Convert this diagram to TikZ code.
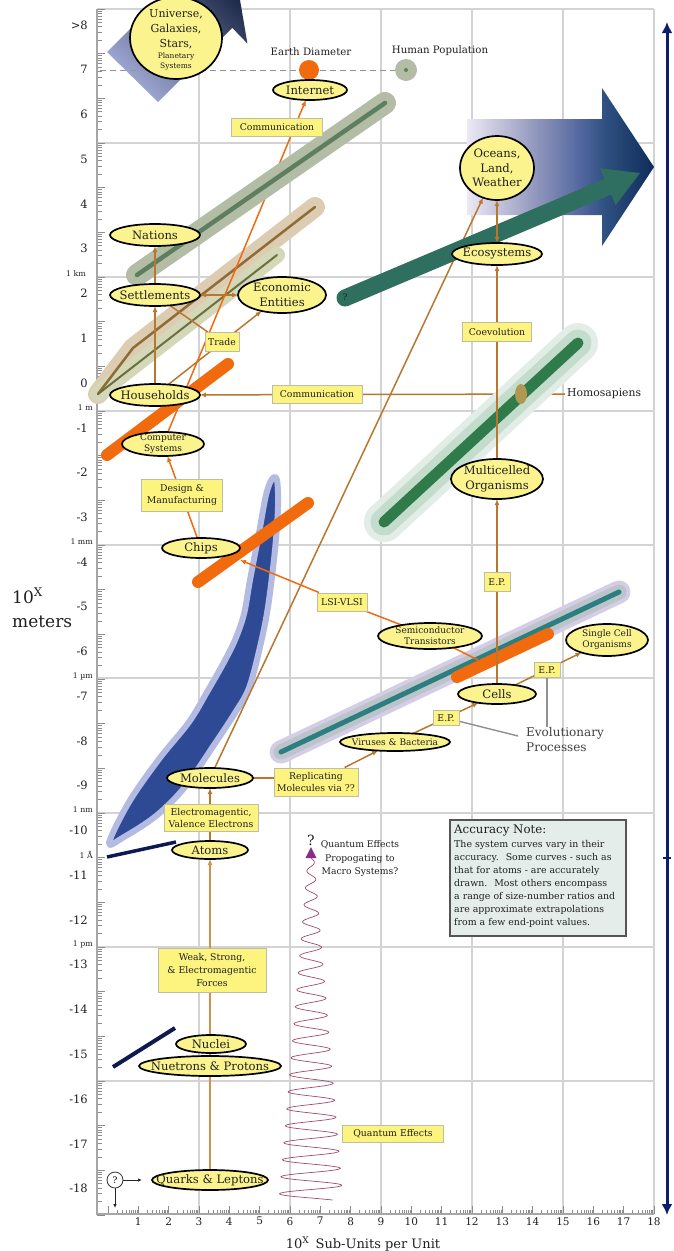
\documentclass[tikz,border=0pt]{standalone}
\usepackage{fontspec}
\setmainfont{DejaVu Serif}
\usetikzlibrary{arrows.meta,shapes.geometric}
\pgfdeclarelayer{back}
\pgfdeclarelayer{mid}
\pgfdeclarelayer{conn}
\pgfsetlayers{back,mid,conn,main}
\definecolor{nodey}{HTML}{FBF38D}
\definecolor{boxy}{HTML}{FDF37F}
\definecolor{boxb}{HTML}{BDBDA8}
\definecolor{brownc}{HTML}{B9772E}
\definecolor{orangec}{HTML}{F26A0E}
\definecolor{quarkc}{HTML}{D4914A}
\definecolor{gridc}{HTML}{D3D3D3}
\definecolor{axisc}{HTML}{A6A6A6}
\definecolor{tickc}{HTML}{8C8C8C}
\definecolor{navyc}{HTML}{0E1C6E}
\definecolor{navyl}{HTML}{0C1A50}
\definecolor{tanh}{HTML}{DCCDB2}
\definecolor{tanc}{HTML}{8E6C36}
\definecolor{olh}{HTML}{D4D8B8}
\definecolor{olc}{HTML}{6C703E}
\definecolor{nath}{HTML}{B3BDA5}
\definecolor{natc}{HTML}{5E7E60}
\definecolor{mulo}{HTML}{E3EDE7}
\definecolor{mulm}{HTML}{C3DCCB}
\definecolor{mulc}{HTML}{2F7B49}
\definecolor{cellv}{HTML}{D5CDE6}
\definecolor{cellg}{HTML}{BAC4C9}
\definecolor{cellc}{HTML}{2C7E80}
\definecolor{ecoc}{HTML}{2F6F5F}
\definecolor{leafh}{HTML}{B3BBE3}
\definecolor{leafc}{HTML}{2F4A95}
\definecolor{univL}{HTML}{A0AAD6}
\definecolor{univM}{HTML}{5262A0}
\definecolor{univR}{HTML}{1A2644}
\definecolor{ocA}{HTML}{ECE8F4}
\definecolor{ocB}{HTML}{BCBCD6}
\definecolor{ocC}{HTML}{8890B8}
\definecolor{ocM}{HTML}{5468A0}
\definecolor{ocD}{HTML}{2E5080}
\definecolor{ocE}{HTML}{0E2C5A}
\definecolor{humc}{HTML}{B5BCA5}
\definecolor{olivem}{HTML}{B09850}
\definecolor{wavec}{HTML}{A04A70}
\definecolor{purplec}{HTML}{8A2A8A}
\definecolor{notefill}{HTML}{E5EDEB}
\definecolor{notebord}{HTML}{555555}
\definecolor{greyc}{HTML}{909090}
\definecolor{txtc}{HTML}{202020}
\pgfdeclarehorizontalshading{oceansh}{100bp}{color(0bp)=(ocA); color(25bp)=(ocA); color(35bp)=(ocB); color(45bp)=(ocC); color(55bp)=(ocM); color(62bp)=(ocD); color(75bp)=(ocE); color(100bp)=(ocE)}
\newcommand\ELL[7]{%
  \node[ell, minimum width={2*#4}, minimum height={2*#5}] (#1) at (#2,#3) {};
  \node[#6] (#1-t) at (#2,#3) {#7};}
\begin{document}
\begin{tikzpicture}[x=1pt,y=-1pt,
  ell/.style={ellipse, draw=black, line width=1.7pt, fill=nodey, inner sep=0pt, outer sep=0pt},
  etxt/.style={inner sep=0pt, align=center, text=txtc, font=\fontsize{11.6}{14.5}\selectfont},
  stxt/.style={inner sep=0pt, align=center, text=txtc, font=\fontsize{9}{11}\selectfont},
  lbl/.style={rectangle, draw=boxb, line width=1pt, fill=boxy, inner sep=1.5pt, align=center, text=txtc, font=\fontsize{9.3}{12.8}\selectfont},
  conn/.style={draw=brownc, line width=1.5pt},
  oconn/.style={draw=orangec, line width=1.5pt},
  quarkline/.style={draw=quarkc, line width=2.3pt},
  greyline/.style={draw=greyc, line width=1.4pt},
  arrowend/.style={-{Latex[length=6pt,width=5pt]}},
  bothends/.style={{Latex[length=6pt,width=5pt]}-{Latex[length=6pt,width=5pt]}},
  band/.style={line cap=round, line join=round},
  gridline/.style={draw=gridc, line width=1.3pt},
  axisline/.style={draw=axisc, line width=2.2pt},
  tickline/.style={draw=tickc, line width=0.7pt},
  axf/.style={inner sep=0pt, text=txtc, font=\fontsize{11.5}{13}\selectfont},
  unitf/.style={inner sep=0pt, anchor=east, text=txtc, font=\fontsize{7.8}{9}\selectfont},
]
\useasboundingbox (0,0) rectangle (673,1251);

% ---------------- nodes (main layer) ----------------
\node[ell, minimum width=92, minimum height=82] (universe) at (176,38) {};
\node[etxt, font=\fontsize{11}{15}\selectfont] (universe-t) at (176,40)
  {Universe,\\Galaxies,\\Stars,\\[-4pt]{\fontsize{7.5}{9}\selectfont Planetary}\\[-5pt]{\fontsize{7.5}{9}\selectfont Systems}};
\ELL{internet}{310}{90}{37}{10}{etxt}{Internet}
\ELL{oceans}{497}{168}{37}{32}{etxt}{Oceans,\\Land,\\Weather}
\ELL{ecosys}{497}{254}{45}{11}{etxt}{Ecosystems}
\ELL{nations}{155}{235}{45}{11}{etxt}{Nations}
\ELL{settle}{155}{295}{45}{11}{etxt}{Settlements}
\ELL{econ}{282}{295}{44}{18}{etxt}{Economic\\Entities}
\ELL{house}{155}{395}{45}{11}{etxt}{Households}
\ELL{compsys}{163}{444}{41}{12}{stxt}{Computer\\Systems}
\ELL{chips}{201}{548}{39}{10}{etxt}{Chips}
\ELL{multi}{497}{479}{46}{20}{etxt}{Multicelled\\Organisms}
\ELL{semic}{430}{636}{52}{13}{stxt}{Semiconductor\\Transistors}
\ELL{single}{607}{640}{41}{16}{stxt}{Single Cell\\Organisms}
\ELL{cells}{497}{694}{39}{10}{etxt}{Cells}
\ELL{viruses}{395}{742}{55}{9}{stxt}{Viruses \& Bacteria}
\ELL{molec}{210}{778}{43}{10}{etxt}{Molecules}
\ELL{atoms}{210}{850}{38}{9}{etxt}{Atoms}
\ELL{nuclei}{211}{1044}{35}{9}{etxt}{Nuclei}
\ELL{neut}{210}{1066}{71}{10}{etxt}{Nuetrons \& Protons}
\ELL{quarks}{210}{1180}{58}{10}{etxt}{Quarks \& Leptons}

\node[lbl, minimum width=91, minimum height=18] (comm1) at (277,127) {Communication};
\node[lbl, minimum width=34, minimum height=19] (trade) at (222,342) {Trade};
\node[lbl, minimum width=90, minimum height=18] (comm2) at (317,394) {Communication};
\node[lbl, minimum width=69, minimum height=19] (coevo) at (497,332) {Coevolution};
\node[lbl, minimum width=81, minimum height=32] (design) at (182,495) {Design \&\\Manufacturing};
\node[lbl, minimum width=50, minimum height=18] (lsi) at (342,602) {LSI-VLSI};
\node[lbl, minimum width=26, minimum height=19] (ep3) at (497,582) {E.P.};
\node[lbl, minimum width=26, minimum height=15] (ep2) at (547,670) {E.P.};
\node[lbl, minimum width=26, minimum height=15] (ep1) at (446,718) {E.P.};
\node[lbl, minimum width=84, minimum height=28] (repl) at (316,782) {Replicating\\Molecules via ??};
\node[lbl, minimum width=94, minimum height=27] (emv) at (211,818) {Electromagentic,\\Valence Electrons};
\node[lbl, minimum width=108, minimum height=44] (weak) at (212,970) {Weak, Strong,\\\& Electromagentic\\Forces};
\node[lbl, minimum width=101, minimum height=17] (qeff) at (393,1134) {Quantum Effects};

\node[inner sep=0pt, text=txtc, font=\fontsize{10.2}{12}\selectfont] (earthtxt) at (311,52) {Earth Diameter};
\node[inner sep=0pt, text=txtc, font=\fontsize{10.2}{12}\selectfont] (humantxt) at (440,51) {Human Population};
\node[anchor=west, inner sep=0pt, text=txtc, font=\fontsize{10.8}{12}\selectfont] (homotxt) at (567,394) {Homosapiens};
\node[inner sep=0pt, text=txtc, font=\fontsize{9}{10}\selectfont] (ecoq) at (345,297) {?};
\node[anchor=north west, inner sep=0pt, align=left, text=black!75, font=\fontsize{12}{15}\selectfont] (evo) at (526,727) {Evolutionary\\Processes};
\node[inner sep=0pt, text=txtc, font=\fontsize{14}{16}\selectfont] (qq) at (311,840) {?};
\node[inner sep=0pt, align=center, text=txtc, font=\fontsize{9.2}{13.5}\selectfont] (qtext) at (360,859) {Quantum Effects\\Propogating to\\Macro Systems?};

\node[draw=notebord, line width=1.5pt, fill=notefill, anchor=north west, minimum width=176, minimum height=116, inner sep=0pt] (notebox) at (449,819) {};
\node[anchor=north west, inner sep=0pt, text=txtc, font=\fontsize{11.8}{13}\selectfont] (notetitle) at (454,825) {Accuracy Note:};
\node[anchor=north west, inner sep=0pt, align=left, text=txtc, font=\fontsize{9.4}{13}\selectfont] (notebody) at (454,840)
  {The system curves vary in their\\accuracy.~ Some curves - such as\\that for atoms - are accurately\\drawn.~ Most others encompass\\a range of size-number ratios and\\are approximate extrapolations\\from a few end-point values.};

\node[circle, draw=black!80, line width=0.8pt, fill=white, minimum size=16, inner sep=0pt, font=\fontsize{9}{10}\selectfont] (qmark) at (115,1180) {?};
\coordinate (qright) at (142,1180);
\coordinate (qdown) at (115,1208);

\node[anchor=base west, inner sep=0pt, text=txtc, font=\fontsize{17}{20}\selectfont] (ylab1) at (12,603) {10\textsuperscript{X}};
\node[anchor=base west, inner sep=0pt, text=txtc, font=\fontsize{17}{20}\selectfont] (ylab2) at (12,627) {meters};
\node[anchor=base, inner sep=0pt, text=txtc, font=\fontsize{13}{15}\selectfont] (xlab) at (363,1248) {10\textsuperscript{X}\, Sub-Units per Unit};

% axis labels
\foreach \v in {-18,...,7} {\node[axf, anchor=east] (yl\v) at (88,{383-44.75*\v}) {\v};}
\node[axf, anchor=east] (yl8) at (88,25) {>8};
\foreach \k in {1,...,18} {\node[axf, anchor=north, font=\fontsize{10.5}{12}\selectfont] (xl\k) at ({108+30.333*\k},1217) {\k};}
\node[unitf] (ukm) at (86,274) {1 km};
\node[unitf] (um) at (93,408) {1 m};
\node[unitf] (umm) at (93,542) {1 mm};
\node[unitf] (uum) at (93,676) {1 µm};
\node[unitf] (unm) at (93,810) {1 nm};
\node[unitf] (ua) at (93,855) {1 Å};
\node[unitf] (upm) at (93,944) {1 pm};

\coordinate (homo) at (565,394);
\coordinate (obandpt) at (478,660);
\coordinate (chipspt) at (240,560);
\coordinate (evoend) at (518,736);
\coordinate (rtop) at (667,22);
\coordinate (rbot) at (667,1215);

% right axis
\draw[navyc, line width=3pt, {Latex[length=11pt,width=11pt]}-{Latex[length=11pt,width=11pt]}] (rtop) -- (rbot);
\draw[navyc, line width=1.2pt] (663,858) -- (671,858);

% ---------------- back layer ----------------
\begin{pgfonlayer}{back}
\fill[white] (0,0) rectangle (673,1251);
\foreach \gx in {199,290,381,472,563,654} {\draw[gridline] (\gx,9) -- (\gx,1214);}
\foreach \gy in {143,277,411,545,678,813,947,1081} {\draw[gridline] (97,\gy) -- (654,\gy);}
\draw[gridline] (97,9) -- (654,9);
\foreach \ee in {-18,...,9} {\pgfmathsetmacro\yy{411-44.667*\ee}\draw[tickline] (97,\yy) -- (105,\yy);}
\foreach \ee in {-17,...,9} {\foreach \mm in {2,...,9} {\pgfmathsetmacro\yy{411-44.667*\ee+44.667*(1-log10(\mm))}\draw[tickline] (97,\yy) -- (102,\yy);}}
\foreach \kk in {0,...,18} {\pgfmathsetmacro\xx{108+30.333*\kk}\draw[tickline] (\xx,1214) -- (\xx,1206);}
\foreach \kk in {0,...,17} {\foreach \mm in {2,...,9} {\pgfmathsetmacro\xx{108+30.333*\kk+30.333*log10(\mm)}\draw[tickline] (\xx,1214) -- (\xx,1210);}}
\draw[axisline] (97,9) -- (97,1214) -- (654,1214);

% universe arrow
\begin{scope}
\clip (0,0) rectangle (673,1251);
\shade[bottom color=univL, middle color=univM, top color=univR, shading angle=-45]
  (107,52) -- (158,102) -- (232.2,27.8) -- (247.4,43.5) -- (235.6,-26.1) -- (166,-38) -- (181.2,-22.2) -- cycle;
\end{scope}
% oceans arrow
\shade[shading=oceansh] (467,119) -- (602,119) -- (602,88) -- (654,167) -- (602,246) -- (602,215) -- (467,215) -- cycle;

% dashed line
\draw[gridc!70!black, dashed, dash pattern=on 6pt off 4pt, line width=1pt] (100,70) -- (395,70);

% tan & olive bands
\draw[band, tanh, line width=20pt] (98,394) -- (133,348) -- (315,207);
\draw[band, olh, line width=16pt] (98,394) -- (277,255);
\draw[band, tanc, line width=2.5pt] (98,394) -- (133,348) -- (315,207);
\draw[band, olc, line width=2pt] (98,394) -- (277,255);

% leaf
\draw[leafh, line width=6pt, fill=leafc, line join=round] plot[smooth cycle, tension=0.55] coordinates
  {(109,843) (129,802) (159,759) (189,722) (207,692) (223,664) (235,640) (244,614) (250,580) (259,533) (266,495) (272,479) (277,480) (278,507) (275,550) (268,607) (260,647) (249,688) (235,713) (214,745) (185,787) (156,816) (124,837)};

% navy lines
\draw[navyl, line width=3.5pt] (107,857) -- (176,842);
\draw[navyl, line width=4pt] (113,1067) -- (175,1028);

% quantum wave
\draw[wavec, line width=0.7pt] plot[domain=858:1200, samples=500, smooth, variable=\t] ({311+(3+(\t-858)*0.085)*sin((\t-858)*21.1765)}, \t);
\fill[purplec] (311,847) -- (305.5,858) -- (316.5,858) -- cycle;

% connectors under bands
\draw[conn, arrowend] (molec) -- (oceans);
\draw[oconn, arrowend] (compsys) -- (internet);
\draw[conn, arrowend] (homo) -- (house);
\end{pgfonlayer}

% ---------------- mid layer ----------------
\begin{pgfonlayer}{mid}
\fill[orangec] (309,70) circle [radius=10pt];
\fill[humc] (406,70) circle [radius=11pt];
\fill[natc] (406,70) circle [radius=2pt];
\draw[band, nath, line width=22pt] (137,275) -- (385,103);
\draw[band, natc, line width=4.5pt] (137,275) -- (385,103);
\draw[band, ecoc, line width=17pt] (345,298) -- (610,185.8);
\fill[ecoc] (640,173) -- (615.6,205.1) -- (600,168.3) -- cycle;
\draw[band, mulo, line width=40pt] (384,522) -- (578,343);
\draw[band, mulm, line width=27pt] (384,522) -- (578,343);
\draw[band, mulc, line width=11pt] (384,522) -- (578,343);
\fill[olivem] (521,394) ellipse [x radius=6pt, y radius=10pt];
\draw[band, cellv, line width=23pt] (281,752) -- (619,592);
\draw[band, cellg, line width=15pt] (281,752) -- (619,592);
\draw[band, cellc, line width=5pt] (281,752) -- (619,592);
\draw[band, orangec, line width=12pt] (107,455) -- (228,364);
\draw[band, orangec, line width=12pt] (198,582) -- (308,503);
\draw[band, orangec, line width=12pt] (457,677) -- (548,634);
\end{pgfonlayer}

% ---------------- connectors ----------------
\begin{pgfonlayer}{conn}
\draw[conn, arrowend] (house) -- (settle);
\draw[conn, arrowend] (settle) -- (nations);
\draw[conn, bothends] (settle) -- (econ);
\draw[conn, arrowend] (house) -- (econ);
\draw[conn] (settle) -- (trade);
\draw[conn, arrowend] (multi) -- (ecosys);
\draw[conn, bothends] (ecosys) -- (oceans);
\draw[conn, arrowend] (cells) -- (multi);
\draw[conn, arrowend] (cells) -- (single);
\draw[conn, arrowend] (viruses) -- (cells);
\draw[conn, arrowend] (repl) -- (viruses);
\draw[conn] (molec.east) -- (repl.west |- molec.east);
\draw[conn, arrowend] (atoms) -- (molec);
\draw[quarkline, arrowend] (quarks) -- (atoms);
\draw[oconn, arrowend] (chips) -- (compsys);
\draw[oconn] (obandpt) -- (semic);
\draw[oconn, arrowend] (semic) -- (lsi) -- (chipspt);
\draw[greyline] (ep2) -- (ep2 |- evo.north);
\draw[greyline] (ep1) -- (evoend);
\draw[black!85, line width=0.8pt, -{Latex[length=4pt,width=3.5pt]}] (qmark) -- (qright);
\draw[black!85, line width=0.8pt, -{Latex[length=4pt,width=3.5pt]}] (qmark) -- (qdown);
\end{pgfonlayer}
\end{tikzpicture}
\end{document}
